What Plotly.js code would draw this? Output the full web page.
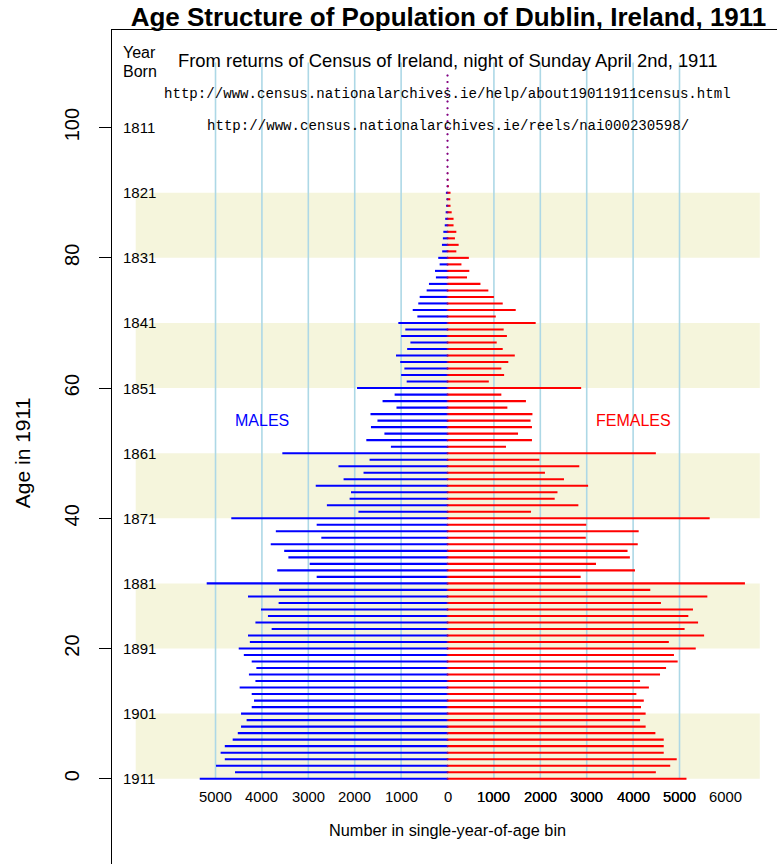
<!DOCTYPE html>
<html><head><meta charset="utf-8">
<script src="https://cdn.plot.ly/plotly-3.0.1.min.js"></script>
<style>html,body{margin:0;padding:0;background:#fff}#chart{width:777px;height:864px}</style>
</head><body><div id="chart"></div>
<script>
// Counts per single year of age (index = age in 1911)
const males = [5340,4580,4990,4800,4890,4800,4630,4520,4450,4330,
  4450,4220,4170,4220,4480,4140,4280,4120,4220,4390,
  4500,4260,4300,3790,4140,3870,4020,3640,4300,3630,
  5190,2820,3670,2970,3430,3520,3810,2720,3700,2820,
  4660,1920,2600,2110,2080,2840,2240,1810,2350,1680,
  3560,1220,1750,1360,1650,1510,1660,1100,1400,1140,
  1950,880,1000,930,1020,1110,870,800,1000,910,
  1060,650,750,630,600,450,400,250,270,170,
  200,115,120,100,90,60,50,40,30,20,
  35,10,8,5,5,3,2,2,1,1,
  1,0,0,0,0,0,0,1,0];
const females = [5150,4490,4800,4940,4660,4660,4660,4480,4270,4150,
  4270,4170,4230,4070,4340,4150,4580,4710,4960,4880,
  5350,4770,5530,5110,5400,5190,5290,4600,5600,4370,
  6410,2870,4040,3200,3930,3880,4100,2980,4120,2990,
  5650,1800,2820,2310,2370,3030,2510,2100,2840,1980,
  4490,1260,1820,1520,1820,1790,1830,1290,1690,1160,
  2880,890,1220,1160,1310,1450,1190,1060,1280,1210,
  1900,1040,1470,1190,1000,880,710,420,470,300,
  460,190,240,160,190,130,130,90,65,60,
  65,30,20,15,10,8,5,4,3,2,
  2,1,1,0,0,0,0,0,0];
const ages = males.map((_, i) => i);

const censusYear = 1911;
const bandStarts = [0, 20, 40, 60, 80];
const gridVals = [-5000,-4000,-3000,-2000,-1000,1000,2000,3000,4000,5000];
const xTickVals = [-5000,-4000,-3000,-2000,-1000,0,1000,2000,3000,4000,5000,6000];
const xTickLabels = ['5000','4000','3000','2000','1000','0','1000','2000','3000','4000','5000','6000'];
const boldTickVals = [1000,2000,3000,4000,5000];
const yTickVals = [0,20,40,60,80,100];
const yearLabelAges = [0,10,20,30,40,50,60,70,80,90,100];

const SANS = 'Liberation Sans, Arial, sans-serif';
const MONO = 'Liberation Mono, Courier New, monospace';

const traces = [
  {type:'scatter', mode:'markers', x: ages.map(() => 0), y: ages,
   marker:{color:'#0000FF', size:2}, hoverinfo:'skip', showlegend:false},
  {type:'scatter', mode:'markers', x: ages.map(() => 0), y: ages,
   marker:{color:'#FF0000', size:2, opacity:0.6}, hoverinfo:'skip', showlegend:false},
  {type:'bar', orientation:'h', y: ages, x: males.map(v => -v), width:0.32,
   marker:{color:'#0000FF', line:{width:0}}, hoverinfo:'skip', showlegend:false},
  {type:'bar', orientation:'h', y: ages, x: females, width:0.32,
   marker:{color:'#FF0000', line:{width:0}}, hoverinfo:'skip', showlegend:false}
];

const shapes = [];
bandStarts.forEach(b => shapes.push({type:'rect', xref:'x', yref:'y', x0:-6720, x1:6730, y0:b, y1:b+10,
  fillcolor:'#F5F5DC', line:{width:0}, layer:'below'}));
gridVals.forEach(g => shapes.push({type:'line', xref:'x', yref:'y', x0:g, x1:g, y0:0, y1:110,
  line:{color:'#ADD8E6', width:1.6}, layer:'below'}));

const annotations = [];
const ann = (o) => annotations.push(Object.assign({showarrow:false, xref:'x', yref:'y', xanchor:'center', yanchor:'middle'}, o));
xTickVals.forEach((v, i) => ann({x:v, y:-2.8, text:xTickLabels[i], font:{family:SANS, size:14.8, color:'#000'}}));
boldTickVals.forEach(v => ann({x:v, y:-2.8, text:String(v), font:{family:SANS, size:14.8, color:'#000'}}));
ann({x:0, y:-7.9, text:'Number in single-year-of-age bin', font:{family:SANS, size:16.3, color:'#000'}});
yearLabelAges.forEach(a => ann({x:-7030, y:a, xanchor:'left', text:String(censusYear - a), font:{family:SANS, size:15, color:'#000'}}));
ann({x:-7030, y:111.5, xanchor:'left', text:'Year', font:{family:SANS, size:16, color:'#000'}});
ann({x:-7030, y:108.6, xanchor:'left', text:'Born', font:{family:SANS, size:16, color:'#000'}});
ann({x:0, y:110.3, text:'From returns of Census of Ireland, night of Sunday April 2nd, 1911', font:{family:SANS, size:18.4, color:'#000'}});
ann({x:0, y:105.2, text:'http://www.census.nationalarchives.ie/help/about19011911census.html', font:{family:MONO, size:14.1, color:'#000'}});
ann({x:0, y:100.3, text:'http://www.census.nationalarchives.ie/reels/nai000230598/', font:{family:MONO, size:14.1, color:'#000'}});
ann({x:-4000, y:55, text:'MALES', font:{family:SANS, size:16, color:'#0000FF'}});
ann({x:4000, y:55, text:'FEMALES', font:{family:SANS, size:16, color:'#FF0000'}});
ann({xref:'paper', x:-(112-22)/665, y:50, text:'Age in 1911', textangle:-90, font:{family:SANS, size:21, color:'#000'}});

const layout = {
  width:777, height:864,
  margin:{l:112, r:0, t:30, b:0, pad:0},
  paper_bgcolor:'#fff', plot_bgcolor:'#fff',
  barmode:'overlay', showlegend:false,
  title:{text:'<b>Age Structure of Population of Dublin, Ireland, 1911</b>',
    font:{family:SANS, size:26, color:'#000'},
    x:448.5/777, xanchor:'center', xref:'container', y:1-16.5/864, yanchor:'middle', yref:'container'},
  xaxis:{range:[-7231, 7101], side:'top', showline:true, linecolor:'#000', linewidth:1,
    showgrid:false, zeroline:false, ticks:'', showticklabels:false, fixedrange:true, automargin:false},
  yaxis:{range:[-13.1, 115], showline:true, linecolor:'#000', linewidth:1,
    showgrid:false, zeroline:false, tickvals:yTickVals, ticktext:yTickVals.map(String),
    ticks:'outside', ticklen:12, tickwidth:1, tickcolor:'#000', tickangle:-90,
    ticklabelstandoff:12,
    tickfont:{family:SANS, size:20, color:'#000'}, fixedrange:true, automargin:false},
  shapes:shapes, annotations:annotations
};

Plotly.newPlot('chart', traces, layout, {displayModeBar:false, staticPlot:true});
</script></body></html>
